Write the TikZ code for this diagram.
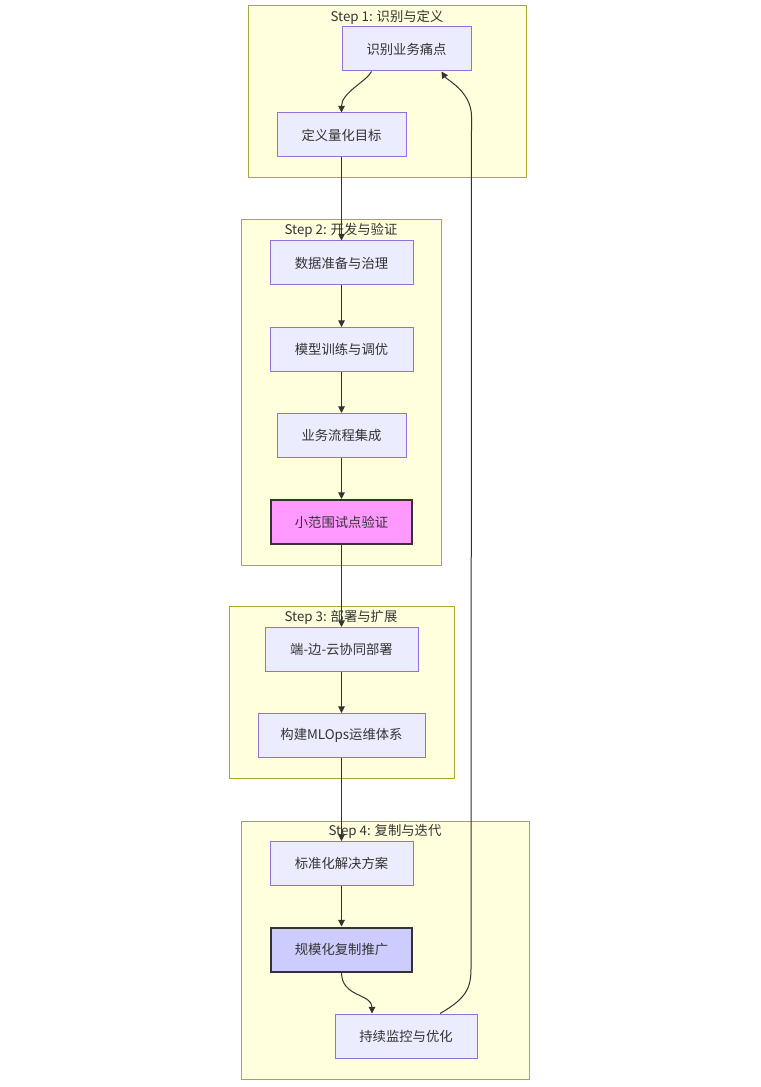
\documentclass[tikz,border=0pt]{standalone}
\usepackage{fontspec}
\setmainfont{Noto Sans CJK SC}
\usetikzlibrary{arrows.meta,calc}
\definecolor{clfill}{HTML}{FFFFDE}
\definecolor{cldraw}{HTML}{AAAA33}
\definecolor{nfill}{HTML}{ECECFF}
\definecolor{ndraw}{HTML}{9370DB}
\definecolor{edgec}{HTML}{333333}
\definecolor{textc}{HTML}{333333}
\definecolor{pinkf}{HTML}{FF99FF}
\definecolor{bluef}{HTML}{CCCCFF}
\begin{document}
\begin{tikzpicture}[x=0.75pt,y=-0.75pt,
  cluster/.style={draw=cldraw,fill=clfill,line width=0.75pt},
  ctitle/.style={text=textc,inner sep=0pt,font=\fontsize{10}{12}\selectfont},
  box/.style={draw=ndraw,fill=nfill,line width=0.75pt,minimum height=33pt,inner sep=0pt,text=textc,font=\fontsize{10}{12}\selectfont},
  hot/.style={box,draw=edgec,line width=1.5pt,fill=pinkf},
  cool/.style={box,draw=edgec,line width=1.5pt,fill=bluef},
  flow/.style={draw=edgec,line width=0.75pt,-{Triangle[length=5pt,width=5pt]}}]
\useasboundingbox (0,0) rectangle (760,1087);
\fill[white] (0,0) rectangle (760,1087);
% clusters
\draw[cluster] (248,6) rectangle (526,178);
\draw[cluster] (241,220) rectangle (441,565);
\draw[cluster] (229,606) rectangle (454,778);
\draw[cluster] (241,821) rectangle (529,1079);
\node[ctitle] (t1) at (387,17) {Step 1: 识别与定义};
\node[ctitle] (t2) at (341,230) {Step 2: 开发与验证};
\node[ctitle] (t3) at (341,617) {Step 3: 部署与扩展};
\node[ctitle] (t4) at (385,831) {Step 4: 复制与迭代};
% nodes
\node[box,minimum width=96.75pt] (A) at (406.5,49) {识别业务痛点};
\node[box,minimum width=96.75pt] (B) at (341.5,135) {定义量化目标};
\node[box,minimum width=107.25pt] (C) at (341.5,263) {数据准备与治理};
\node[box,minimum width=107.25pt] (D) at (341.5,349.5) {模型训练与调优};
\node[box,minimum width=96.75pt] (E) at (341.5,435.5) {业务流程集成};
\node[hot,minimum width=106pt] (F) at (341.5,522) {小范围试点验证};
\node[box,minimum width=114.75pt] (G) at (341.5,649.5) {端-边-云协同部署};
\node[box,minimum width=125.25pt] (H) at (341.5,735.5) {构建MLOps运维体系};
\node[box,minimum width=107.25pt] (I) at (341.5,863.5) {标准化解决方案};
\node[cool,minimum width=106pt] (J) at (341.5,949.5) {规模化复制推广};
\node[box,minimum width=106.5pt] (K) at (406,1036) {持续监控与优化};
% edges
\draw[flow] ($(A.south)+(-35,0)$) .. controls ($(A.south)+(-40,10)$) and ($(B.north)+(0,-20)$) .. (B.north);
\draw[flow] (B.south) -- (C.north);
\draw[flow] (C.south) -- (D.north);
\draw[flow] (D.south) -- (E.north);
\draw[flow] (E.south) -- (F.north);
\draw[flow] (F.south) -- (G.north);
\draw[flow] (G.south) -- (H.north);
\draw[flow] (H.south) -- (I.north);
\draw[flow] (I.south) -- (J.north);
\draw[flow] (J.south) .. controls ($(J.south)+(0,25)$) and ($(K.north)+(-34,-20)$) .. ($(K.north)+(-34,0)$);
\draw[flow] ($(K.north)+(34,0)$) .. controls ($(K.north)+(60,-15)$) and ($(K.north)+(65,-25)$) .. ($(K.north)+(65,-45)$)
  -- ($(A.south)+(65,45)$) .. controls ($(A.south)+(65,20)$) and ($(A.south)+(40,8)$) .. ($(A.south)+(35,0)$);
\end{tikzpicture}
\end{document}
